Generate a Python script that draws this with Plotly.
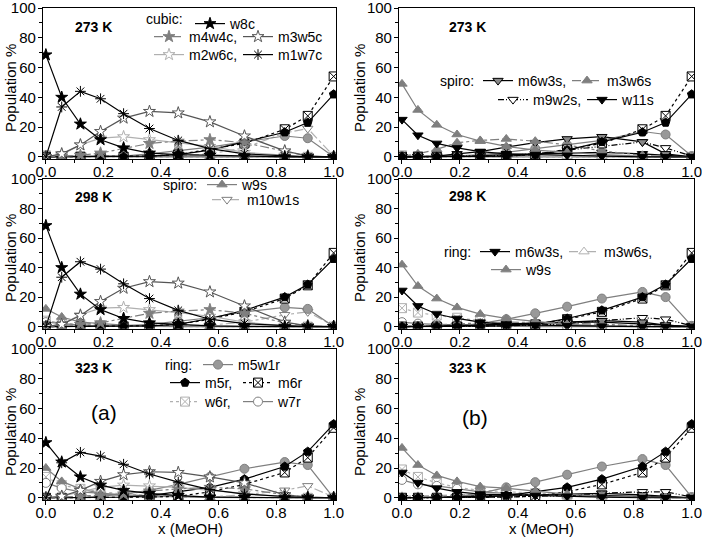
import plotly.graph_objects as go

# ---------------- data ----------------
X = [0.0, 0.055, 0.12, 0.19, 0.27, 0.36, 0.46, 0.57, 0.69, 0.83, 0.91, 1.0]
temps = [273, 298, 323]
x_ticks = [0.0, 0.2, 0.4, 0.6, 0.8, 1.0]
x_tick_labels = ["0.0", "0.2", "0.4", "0.6", "0.8", "1.0"]
y_ticks = [0, 20, 40, 60, 80, 100]

# panel (a) series
w8c = {273: [68.5, 40, 22, 11.5, 6, 2.5, 1.5, 1, 0.3, 0, 0, 0],
       298: [68.5, 40, 22, 11.5, 5.5, 2.5, 1.5, 0.5, 0.2, 0, 0, 0],
       323: [37, 24, 14, 8.5, 5, 3, 1.5, 0.5, 0.2, 0, 0, 0]}
m4w4c = {273: [0, 0.5, 1, 2.5, 5.5, 9, 10.5, 11.5, 9.5, 3.5, 0.5, 0],
         298: [0, 0.5, 1.5, 2.5, 5.5, 9, 10.5, 11.5, 9, 2.5, 0.5, 0],
         323: [0, 0.5, 1, 1.5, 2.5, 4.5, 6, 7, 6, 2, 0.5, 0]}
m3w5c = {273: [0, 2, 8, 17, 26, 30.5, 29.5, 23.5, 14, 4, 0.5, 0],
         298: [0, 1.5, 7.5, 17, 26, 30.5, 29.5, 23.5, 14, 3, 0.5, 0],
         323: [0, 1, 5, 11, 15.5, 17.5, 17, 14, 10, 2, 0.5, 0]}
m2w6c = {273: [0, 1.5, 8, 12.5, 13.5, 11.5, 9.5, 7, 3, 1, 0, 0],
         298: [0, 1.5, 8, 12.5, 13, 11.5, 9.5, 7, 3, 0.5, 0, 0],
         323: [0, 1, 4, 7, 8.5, 8, 7, 5, 3, 0.5, 0, 0]}
m1w7c = {273: [0, 33.5, 44, 39, 29, 19, 11, 5.5, 2, 0.5, 0, 0],
         298: [0, 33.5, 44, 39, 29, 19, 11, 5, 2, 0.5, 0, 0],
         323: [0, 23.5, 30.5, 28, 22.5, 16, 10.5, 5.5, 2.5, 1, 0, 0]}
w9s = {273: [1, 0.5, 0.5, 0.5, 0.2, 0, 0, 0, 0, 0, 0, 0],
       298: [12, 6.5, 3, 2, 1, 0.5, 0.3, 0, 0, 0, 0, 0],
       323: [20, 11, 6, 3, 1.5, 1, 0.5, 0.2, 0, 0, 0, 0]}
m10w1s = {273: [0, 0, 0, 0, 0, 0, 0.5, 2, 6, 16, 19, 0.5],
          298: [0, 0, 0, 0, 0, 0, 0.5, 1, 3, 8, 10, 0.5],
          323: [0, 0, 0, 0, 0, 0, 0, 0.5, 2, 5, 8, 0.5]}
m5w1r = {273: [0, 0, 0, 0, 0.5, 2, 4, 6.5, 10, 14, 12.5, 0],
         298: [0, 0, 0, 0, 0.5, 1.5, 3.5, 6, 10, 13, 12, 0],
         323: [0, 0, 0, 1, 2.5, 5, 9, 14, 19.5, 24, 22, 0]}
m5r = {273: [0, 0, 0, 0, 0, 0.5, 1.5, 4.5, 10, 16.5, 23, 42],
       298: [0, 0, 0, 0, 0, 0.5, 1.5, 5.5, 11, 20, 28.5, 46],
       323: [0, 0, 0, 0, 0.5, 1.5, 4, 7, 12.5, 21, 31, 49.5]}
m6r = {273: [0, 0, 0, 0, 0, 0.5, 1.5, 5, 9, 18.5, 27.5, 54],
       298: [0, 0, 0, 0, 0, 0.5, 1.5, 5, 10, 19, 28, 50],
       323: [0, 0, 0, 0, 0, 0.5, 1, 4, 9, 17, 27, 47]}
w6r = {273: [1, 0.5, 0.3, 0, 0, 0, 0, 0, 0, 0, 0, 0],
       298: [4, 2.5, 1.5, 1, 0.5, 0.3, 0, 0, 0, 0, 0, 0],
       323: [14, 8.5, 6, 4, 2.5, 1.5, 1, 0.5, 0.2, 0, 0, 0]}
w7r = {273: [0.5, 0.3, 0.2, 0, 0, 0, 0, 0, 0, 0, 0, 0],
       298: [3, 2, 1, 0.5, 0.3, 0, 0, 0, 0, 0, 0, 0],
       323: [10, 6.5, 4, 3, 2, 1.5, 1, 0.5, 0.3, 0, 0, 0]}

# panel (b) series
m6w3s = {273: [0, 0, 0.5, 2, 3.5, 6.5, 9.5, 12, 13.5, 10, 2, 0],
         298: [0, 0, 0, 0.5, 1, 1.5, 2, 3, 4, 3, 1, 0],
         323: [0, 0, 0, 0.5, 1, 1.5, 2, 2.5, 3, 2, 1, 0]}
m3w6s = {273: [0.5, 2, 5, 9.5, 11, 12, 10.5, 8, 4, 1, 0, 0],
         298: [0, 0.5, 1, 2, 2.5, 3, 3, 2.5, 1.5, 0.5, 0, 0],
         323: [0, 0.5, 1, 1.5, 2, 2, 2, 1.5, 1, 0.3, 0, 0]}
m9w2s = {273: [0, 0, 0, 0, 0.5, 1, 2, 4.5, 7, 10, 6, 0.5],
         298: [0, 0, 0, 0, 0, 0.5, 1, 2, 4, 6, 5, 0.5],
         323: [0, 0, 0, 0, 0, 0.5, 1, 1.5, 3, 4, 4, 0.5]}
w11s = {273: [25, 14.5, 9, 6, 3.5, 2, 1.5, 1, 0.5, 0, 0, 0],
        298: [24.5, 14, 8.5, 5.5, 3, 1.5, 1, 0.5, 0.3, 0, 0, 0],
        323: [17, 10, 6.5, 4, 2.5, 2, 1.5, 1, 0.5, 0, 0, 0]}
m6w3r = {273: [0, 0, 0, 0.5, 1, 1.5, 2, 2.5, 3, 2, 1, 0],
         298: [0, 0, 0.5, 1, 1.5, 2, 2.5, 3, 3, 2, 1, 0],
         323: [0, 0, 0.5, 1, 1.5, 2, 2, 2, 1.5, 1, 0.5, 0]}
m3w6r = {273: [0, 0, 0, 0.5, 0.5, 0.5, 0.5, 0.5, 0.3, 0, 0, 0],
         298: [0, 0.5, 1, 1.5, 2, 2, 2, 1.5, 1, 0.5, 0, 0],
         323: [1, 1, 1.5, 2, 2, 2, 1.5, 1, 0.5, 0.3, 0, 0]}
w9r = {273: [49, 31.5, 21.5, 15, 10.5, 7, 4.5, 3, 1.5, 0.5, 0, 0],
       298: [42, 27.5, 19, 13, 8.5, 5.5, 3.5, 1.5, 0.5, 0, 0, 0],
       323: [33.5, 22, 15, 11, 7.5, 6.5, 4.5, 2.5, 1, 0.5, 0, 0]}
ring_circle_b = {273: [0, 0, 0, 0.5, 1.5, 3, 5.5, 8, 11, 17, 15, 0.5],
                 298: [0, 0, 0, 0.5, 2, 5, 9, 13.5, 19, 23.5, 20, 0.5],
                 323: [0, 0, 0, 1, 3, 7, 10.5, 15.5, 21, 26, 22, 0.5]}
w6r_b = {273: [1, 0.5, 0.3, 0.2, 0, 0, 0, 0, 0, 0, 0, 0],
         298: [12.5, 9.5, 7.5, 6, 4, 2, 1, 0.5, 0.2, 0, 0, 0],
         323: [19, 14, 10, 7, 5, 4, 3, 2, 1, 0.5, 0, 0]}
w7r_b = {273: [0.5, 0.3, 0.2, 0, 0, 0, 0, 0, 0, 0, 0, 0],
         298: [3, 2, 1.5, 1, 0.5, 0.3, 0, 0, 0, 0, 0, 0],
         323: [12, 9, 8, 6, 4, 3, 2, 1.5, 1, 0.5, 0, 0]}

# ---------------- styles ----------------
BLK, DGR, GR, LGR = "#000000", "#555555", "#7f7f7f", "#b0b0b0"
DASHDOTDOT = "6px,2px,1px,2px,1px,2px"
S = {
    "w8c":    dict(c=BLK, dash="solid", sym="star", fill=BLK, mc=BLK),
    "m4w4c":  dict(c=GR, dash="dashdot", sym="star", fill=GR, mc=GR),
    "m3w5c":  dict(c=DGR, dash="solid", sym="star", fill="white", mc=DGR),
    "m2w6c":  dict(c=LGR, dash="solid", sym="star", fill="white", mc=LGR),
    "m1w7c":  dict(c=BLK, dash="solid", sym="asterisk-open", fill=BLK, mc=BLK),
    "w9s":    dict(c=GR, dash="solid", sym="triangle-up", fill=GR, mc=GR),
    "m10w1s": dict(c=LGR, dash="dashdot", sym="triangle-down", fill="white", mc=GR),
    "m5w1r":  dict(c=GR, dash="solid", sym="circle", fill="#999999", mc=GR),
    "m5r":    dict(c=BLK, dash="solid", sym="pentagon", fill=BLK, mc=BLK),
    "m6r":    dict(c=BLK, dash="dot", sym="square-x", fill="white", mc=BLK),
    "w6r":    dict(c=LGR, dash="dot", sym="square-x", fill="white", mc=LGR),
    "w7r":    dict(c=GR, dash="solid", sym="circle", fill="white", mc=GR),
    "m6w3s":  dict(c=BLK, dash="solid", sym="triangle-down", fill="#888888", mc=BLK),
    "m3w6s":  dict(c=GR, dash="dashdot", sym="triangle-up", fill=GR, mc=GR),
    "m9w2s":  dict(c=BLK, dash=DASHDOTDOT, sym="triangle-down", fill="white", mc=BLK),
    "w11s":   dict(c=BLK, dash="solid", sym="triangle-down", fill=BLK, mc=BLK),
    "m6w3r":  dict(c=BLK, dash="solid", sym="triangle-down", fill=BLK, mc=BLK),
    "m3w6r":  dict(c=LGR, dash="dashdot", sym="triangle-up", fill="white", mc=LGR),
    "w9r":    dict(c=GR, dash="solid", sym="triangle-up", fill=GR, mc=GR),
    "ringc":  dict(c=GR, dash="solid", sym="circle", fill="#999999", mc=GR),
}

left_series = [("w6r", w6r), ("w7r", w7r), ("m10w1s", m10w1s), ("w9s", w9s),
               ("m5w1r", m5w1r), ("m6r", m6r), ("m5r", m5r),
               ("m2w6c", m2w6c), ("m4w4c", m4w4c), ("m3w5c", m3w5c),
               ("m1w7c", m1w7c), ("w8c", w8c)]
right_series = [("w6r", w6r_b), ("w7r", w7r_b), ("m3w6r", m3w6r), ("m6w3r", m6w3r),
                ("ringc", ring_circle_b), ("m9w2s", m9w2s), ("m6w3s", m6w3s),
                ("m3w6s", m3w6s), ("m6r", m6r), ("m5r", m5r), ("w9r", w9r), ("w11s", w11s)]

# legend entries: key -> (label, sample start px, center y px)
legend_items = {
    ("a", "w8c"): ("w8c", 188, 18),
    ("a", "m4w4c"): ("m4w4c,", 147, 37),
    ("a", "m3w5c"): ("m3w5c", 236, 37),
    ("a", "m2w6c"): ("m2w6c,", 147, 55),
    ("a", "m1w7c"): ("m1w7c", 236, 55),
    ("a", "w9s"): ("w9s", 200, 185),
    ("a", "m10w1s"): ("m10w1s", 205, 200),
    ("a", "m5w1r"): ("m5w1r", 196, 365),
    ("a", "m5r"): ("m5r,", 163, 383),
    ("a", "m6r"): ("m6r", 236, 383),
    ("a", "w6r"): ("w6r,", 163, 402),
    ("a", "w7r"): ("w7r", 236, 402),
    ("b", "m6w3s"): ("m6w3s,", 476, 81),
    ("b", "m3w6s"): ("m3w6s", 565, 81),
    ("b", "m9w2s"): ("m9w2s,", 491, 100),
    ("b", "w11s"): ("w11s", 580, 100),
    ("b", "m6w3r"): ("m6w3s,", 473, 252),
    ("b", "m3w6r"): ("m3w6s,", 562, 252),
    ("b", "w9r"): ("w9s", 484, 270),
}

# ---------------- geometry ----------------
W, H = 702, 537
ML, MR, MT, MB = 43, 8, 8, 37
PW, PH = W - ML - MR, H - MT - MB
LEG_OFF = -2  # px from legend box left to start of the sample line


def px2x(px):
    return (px - ML) / PW


def px2y(py):
    return (H - MB - py) / PH


col_dom = {"a": [0.0, 0.45], "b": [0.547, 1.0]}
row_dom = [[0.693, 1.0], [0.348, 0.652], [0.0, 0.307]]

FONT = "Liberation Sans, Arial, sans-serif"
fig = go.Figure()

legend_index = {}
for k, key in enumerate(legend_items):
    legend_index[key] = "legend" if k == 0 else f"legend{k + 1}"

panel = 0
for r, T in enumerate(temps):
    for col in ["a", "b"]:
        panel += 1
        xa = "x" if panel == 1 else f"x{panel}"
        ya = "y" if panel == 1 else f"y{panel}"
        series = left_series if col == "a" else right_series
        for name, data in series:
            st = S[name]
            key = (col, name)
            show = key in legend_items and r == 0
            label = legend_items[key][0] if key in legend_items else name
            tr = dict(
                x=X, y=data[T], mode="lines+markers", name=label,
                xaxis=xa, yaxis=ya, showlegend=show,
                line=dict(color=st["c"], width=1.2, dash=st["dash"]),
                marker=dict(symbol=st["sym"], size=9, color=st["fill"],
                            line=dict(color=st["mc"], width=1)),
            )
            if key in legend_items:
                tr["legend"] = legend_index[key]
            fig.add_trace(go.Scatter(**tr))

        axis_common = dict(showline=True, linecolor="black", linewidth=1.3, mirror=True,
                           ticks="outside", ticklen=4, tickwidth=1.2, tickcolor="black",
                           showgrid=False, zeroline=False, automargin=False,
                           ticklabeloverflow="allow",
                           tickfont=dict(family=FONT, size=15, color="black"))
        xk = "xaxis" if panel == 1 else f"xaxis{panel}"
        yk = "yaxis" if panel == 1 else f"yaxis{panel}"
        xdict = dict(axis_common, domain=col_dom[col], anchor=ya, range=[-0.01, 1.008],
                     tickvals=x_ticks, ticktext=x_tick_labels, ticklabelstandoff=-5,
                     minor=dict(ticks="outside", ticklen=3, dtick=0.1, tick0=0, tickcolor="black"))
        ydict = dict(axis_common, domain=row_dom[r], anchor=xa, range=[-1.5, 100],
                     tickvals=y_ticks, ticklabelstandoff=-1,
                     minor=dict(ticks="outside", ticklen=3, dtick=10, tick0=0, tickcolor="black"))
        fig.layout[xk] = xdict
        fig.layout[yk] = ydict

# legends (one per entry so each can be placed like the reference)
legends = {}
for key, (label, sx, cy) in legend_items.items():
    top = cy < 25
    legends[legend_index[key]] = dict(
        x=px2x(sx - LEG_OFF), y=1.0 if top else px2y(cy),
        xanchor="left", yanchor="top" if top else "middle",
        bgcolor="rgba(0,0,0,0)", borderwidth=0, itemwidth=30,
        font=dict(family=FONT, size=14, color="black"), tracegroupgap=0)
fig.update_layout(**legends)

# text annotations
ann = []


def add_text(text, px, py, anchor="left", size=14, bold=False, angle=0):
    ann.append(dict(text=f"<b>{text}</b>" if bold else text, x=px2x(px), y=px2y(py),
                    xref="paper", yref="paper", xanchor=anchor, yanchor="middle",
                    textangle=angle, showarrow=False,
                    font=dict(family=FONT, size=size, color="black")))


add_text("cubic:", 185, 19, "right")
add_text("spiro:", 199, 185, "right")
add_text("ring:", 194, 365, "right")
add_text("spiro:", 476, 81, "right")
add_text("ring:", 473, 252, "right")
for (px, py, t) in [(73, 27, "273 K"), (73, 197, "298 K"), (73, 368, "323 K"),
                    (447, 27, "273 K"), (447, 196, "298 K"), (447, 368, "323 K")]:
    add_text(t, px, py, "left", 14, True)
add_text("(a)", 89, 412, "left", 21)
add_text("(b)", 460, 417, "left", 21)
for cx in [10, 359]:
    for cy in [88, 258, 432]:
        add_text("Population %", cx, cy, "center", 15, angle=-90)
add_text("x (MeOH)", 190, 528, "center", 15)
add_text("x (MeOH)", 541, 528, "center", 15)

fig.update_layout(
    width=W, height=H, margin=dict(l=ML, r=MR, t=MT, b=MB, autoexpand=False),
    paper_bgcolor="white", plot_bgcolor="white",
    annotations=ann, font=dict(family=FONT, size=15, color="black"),
)

fig.write_html("out.html", config={"displayModeBar": False},
               post_script="document.body.style.margin='0px';document.body.style.overflow='hidden';")
